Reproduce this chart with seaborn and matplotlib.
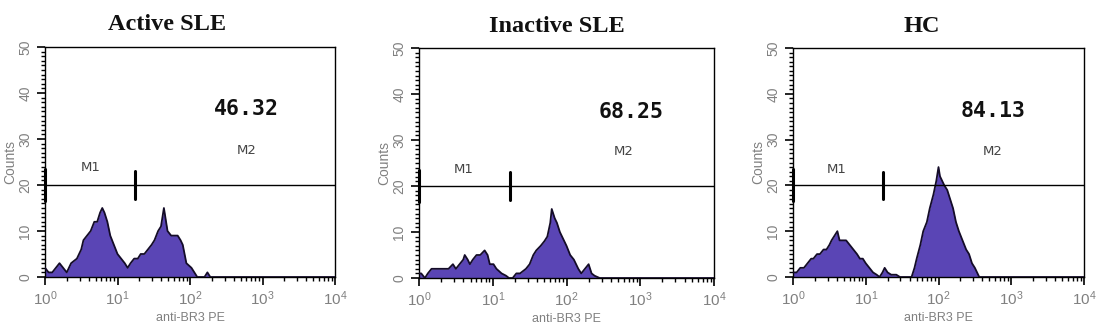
import numpy as np
import pandas as pd
import matplotlib
matplotlib.use("Agg")
import matplotlib.pyplot as plt
import matplotlib.ticker as mticker
import seaborn as sns

sns.set_theme(style="white")
plt.rcParams['font.family'] = ['Liberation Sans', 'DejaVu Sans']
plt.rcParams['mathtext.fontset'] = 'custom'
plt.rcParams['mathtext.rm'] = 'Liberation Sans'
plt.rcParams['mathtext.it'] = 'Liberation Sans:italic'
plt.rcParams['mathtext.bf'] = 'Liberation Sans:bold'

titles = ["Active SLE", "Inactive SLE", "HC"]
percent_labels = ["46.32", "68.25", "84.13"]

# log10 intensity positions and counts
active_logx = [0.00, 0.05, 0.10, 0.15, 0.20, 0.25, 0.30, 0.36, 0.44, 0.50, 0.53, 0.58, 0.63, 0.68, 0.72, 0.76, 0.79, 0.82, 0.86, 0.90, 0.95, 1.00, 1.05, 1.10, 1.14, 1.18, 1.23, 1.28, 1.32, 1.37, 1.42, 1.47, 1.51, 1.56, 1.60, 1.64, 1.67, 1.69, 1.74, 1.78, 1.83, 1.87, 1.90, 1.95, 2.02, 2.06, 2.10, 2.20, 2.24, 2.28, 2.35, 4.00]
active_counts = [2, 1, 1, 2, 3, 2, 1, 3, 4, 6, 8, 9, 10, 12, 12, 14, 15, 14, 12, 9, 7, 5, 4, 3, 2, 3, 4, 4, 5, 5, 6, 7, 8, 10, 11, 15, 12, 10, 9, 9, 9, 8, 7, 3, 2, 1, 0, 0, 1, 0, 0, 0]

inactive_logx = [0.00, 0.03, 0.08, 0.12, 0.17, 0.22, 0.28, 0.34, 0.40, 0.46, 0.50, 0.55, 0.60, 0.62, 0.66, 0.69, 0.73, 0.78, 0.83, 0.89, 0.93, 0.96, 1.01, 1.05, 1.12, 1.18, 1.22, 1.27, 1.32, 1.37, 1.45, 1.50, 1.55, 1.59, 1.65, 1.70, 1.74, 1.78, 1.80, 1.84, 1.87, 1.91, 1.94, 2.00, 2.05, 2.10, 2.16, 2.20, 2.25, 2.30, 2.34, 2.38, 2.45, 4.00]
inactive_counts = [1, 1, 0, 1, 2, 2, 2, 2, 2, 3, 2, 3, 4, 5, 4, 3, 4, 5, 5, 6, 5, 3, 3, 2, 1, 0.5, 0, 0, 1, 1, 2, 3, 5, 6, 7, 8, 9, 12, 15, 13, 12, 10, 9, 7, 5, 4, 2, 1, 2, 3, 1, 0.5, 0, 0]

hc_logx = [0.00, 0.05, 0.10, 0.15, 0.20, 0.25, 0.28, 0.33, 0.37, 0.42, 0.46, 0.50, 0.53, 0.57, 0.61, 0.64, 0.69, 0.73, 0.78, 0.83, 0.88, 0.92, 0.96, 1.00, 1.05, 1.10, 1.15, 1.19, 1.23, 1.26, 1.30, 1.35, 1.42, 1.47, 1.51, 1.58, 1.63, 1.67, 1.70, 1.75, 1.79, 1.84, 1.88, 1.93, 1.97, 2.00, 2.02, 2.05, 2.08, 2.12, 2.16, 2.20, 2.24, 2.28, 2.33, 2.38, 2.42, 2.46, 2.50, 2.53, 2.56, 4.00]
hc_counts = [1, 1, 2, 2, 3, 4, 4, 5, 5, 6, 6, 7, 8, 9, 10, 8, 8, 8, 7, 6, 5, 4, 4, 3, 2, 1, 0.5, 0, 1, 2, 1, 0.5, 0.5, 0, 0, 0, 0, 2, 4, 7, 10, 12, 15, 18, 21, 24, 22, 21, 20, 19, 17, 15, 12, 10, 8, 6, 5, 3, 2, 1, 0, 0]

gate_logx = 1.24
gate_level = 20
m1_pos = [(0.63, 23.7), (0.60, 23.5), (0.60, 23.5)]
m2_pos = [(2.78, 27.4), (2.78, 27.4), (2.75, 27.4)]
pct_pos = [(2.78, 36.5), (2.88, 36.0), (2.75, 36.3)]
title_x = [0.42, 0.468, 0.443]

series = [(active_logx, active_counts), (inactive_logx, inactive_counts), (hc_logx, hc_counts)]

W, H = 1097, 333
fig = plt.figure(figsize=(W / 100, H / 100), dpi=100)
boxes = [(45, 47, 290, 230), (419, 48, 295, 230), (793, 48, 291, 229)]

fill_color = "#5a45b5"
gray = "#808080"

for i, (lx, cnt) in enumerate(series):
    l, t, w, h = boxes[i]
    ax = fig.add_axes([l / W, (H - t - h) / H, w / W, h / H])
    df = pd.DataFrame({"x": np.power(10.0, lx), "count": cnt})
    ax.fill_between(df["x"], 0, df["count"], color=fill_color, linewidth=0, zorder=2)
    sns.lineplot(data=df, x="x", y="count", ax=ax, color="#140c28", linewidth=1.3, zorder=3)
    ax.set_xscale("log")
    ax.set_xlim(1, 1e4)
    ax.set_ylim(0, 50)

    # gate markers
    ax.axhline(gate_level, color="black", linewidth=1.0, zorder=4)
    ax.plot([10 ** gate_logx] * 2, [17, 23], color="black", linewidth=2.2, zorder=5)
    ax.plot([1.0, 1.0], [16.5, 23.5], color="black", linewidth=2.2, zorder=5, clip_on=False)

    ax.text(10 ** m1_pos[i][0], m1_pos[i][1], "M1", ha="center", va="center",
            fontsize=9.5, color="#444444", family="DejaVu Sans")
    ax.text(10 ** m2_pos[i][0], m2_pos[i][1], "M2", ha="center", va="center",
            fontsize=9.5, color="#444444", family="DejaVu Sans")
    ax.text(10 ** pct_pos[i][0], pct_pos[i][1], percent_labels[i], ha="center", va="center",
            fontsize=15.5, fontweight="bold", color="#111111", family="DejaVu Sans Mono")

    ax.text(title_x[i], 1.0 + 22 / h, titles[i], transform=ax.transAxes, ha="center", va="center",
            fontsize=17.5, fontweight="bold", family="Liberation Serif", color="#111111")

    for s in ax.spines.values():
        s.set_color("black")
        s.set_linewidth(1.0)

    ax.yaxis.set_major_locator(mticker.MultipleLocator(10))
    ax.yaxis.set_minor_locator(mticker.MultipleLocator(1))
    ax.xaxis.set_major_locator(mticker.LogLocator(base=10, numticks=10))
    ax.xaxis.set_minor_locator(mticker.LogLocator(base=10, subs=np.arange(2, 10), numticks=20))
    ax.xaxis.set_minor_formatter(mticker.NullFormatter())
    ax.tick_params(axis="both", which="major", direction="out", length=6, width=1.2,
                   color="black", labelcolor=gray, bottom=True, left=True)
    ax.tick_params(axis="both", which="minor", direction="out", length=3, width=1.0,
                   color="black", bottom=True, left=True)
    ax.tick_params(axis="y", labelsize=10, pad=3)
    ax.tick_params(axis="x", labelsize=11, pad=3)
    for lab in ax.get_yticklabels():
        lab.set_rotation(90)
        lab.set_va("center")

    ax.set_xlabel("anti-BR3 PE", fontsize=9, color=gray, labelpad=3)
    ax.set_ylabel("Counts", fontsize=10, color=gray, labelpad=1)

fig.savefig("out.png", dpi=100)
